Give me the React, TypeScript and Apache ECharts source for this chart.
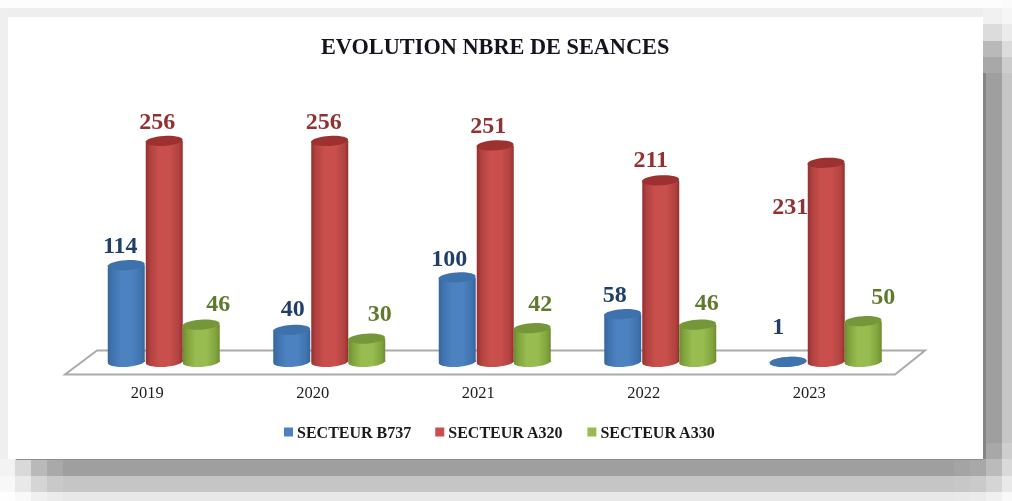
import React, { useEffect, useRef } from "react";
import * as echarts from "echarts";

const years = ["2019", "2020", "2021", "2022", "2023"];
const b737 = [114, 40, 100, 58, 1];
const a320 = [256, 256, 251, 211, 231];
const a330 = [46, 30, 42, 46, 50];

const FONT = '"Liberation Serif", "Times New Roman", serif';

// label nudges from the default spot above each cylinder, in pixels [dx, dy]
const b737Nudge = [[-6, 1], [1, -1], [-8, 1], [-8, 1], [-10, -17]];
const a320Nudge = [[-7, 1], [-6, 1], [-7, 1], [-10, 0], [-36, 64]];
const a330Nudge = [[17, -1], [13, -5], [8, -4], [9, -2], [20, -4]];

type Look = { edge: string; light: string; mid: string; cap: string; text: string };
const blue: Look = { edge: "#35669d", light: "#4c82c0", mid: "#3f73ae", cap: "#3d72ad", text: "#1f3f68" };
const red: Look = { edge: "#962f2e", light: "#c84f4c", mid: "#b04240", cap: "#9c3130", text: "#8f3234" };
const green: Look = { edge: "#6c8d30", light: "#98bc50", mid: "#80a33c", cap: "#76963a", text: "#5f7a2c" };

const BAR_W = 37;
const RY = 5;
const TILT = 0.06;
const BASE_SHIFT = 17;
const BASE_LIFT = 3;

function cylinderSeries(name: string, values: number[], nudge: number[][], look: Look, offset: number) {
  return {
    type: "custom",
    name,
    itemStyle: { color: look.light },
    data: values.map((v, i) => [i, v]),
    encode: { x: 0, y: 1 },
    clip: false,
    renderItem: (_: any, api: any) => {
      const i = api.value(0);
      const v = api.value(1);
      const [cx0, rawTop] = api.coord([i, v]);
      const [, zeroY] = api.coord([i, 0]);
      const baseY = zeroY - BASE_LIFT;
      const topY = Math.min(rawTop, baseY);
      const cx = cx0 + BASE_SHIFT + offset;
      const left = cx - BAR_W / 2;
      const fill = new echarts.graphic.LinearGradient(0, 0, 1, 0, [
        { offset: 0, color: look.edge },
        { offset: 0.12, color: look.mid },
        { offset: 0.35, color: look.light },
        { offset: 0.65, color: look.light },
        { offset: 0.9, color: look.mid },
        { offset: 1, color: look.edge },
      ]);
      const ellipse = (cy: number, color: any) => ({
        type: "ellipse",
        shape: { cx, cy, rx: BAR_W / 2, ry: RY },
        originX: cx,
        originY: cy,
        rotation: TILT,
        style: { fill: color },
      });
      const [dx, dy] = nudge[i];
      return {
        type: "group",
        children: [
          ellipse(baseY, fill),
          { type: "rect", shape: { x: left, y: topY, width: BAR_W, height: baseY - topY }, style: { fill } },
          ellipse(topY, v < 5 ? look.mid : look.cap),
          {
            type: "text",
            style: {
              text: String(values[i]),
              x: cx + dx,
              y: rawTop - 21 + dy,
              textAlign: "center",
              textVerticalAlign: "middle",
              font: `bold 24px ${FONT}`,
              fill: look.text,
            },
          },
        ],
      };
    },
  };
}

// stepped drop shadow around the panel
const shadowRight = [
  [0, 8, "#fdfdfd", "#fbfbfb"],
  [8, 16, "#f1f1f1", "#f6f6f6"],
  [24, 17, "#dcdcdc", "#ebebeb"],
  [41, 16, "#b9b9b9", "#dcdcdc"],
  [57, 16, "#a8a8a8", "#cdcdcd"],
  [73, 370, "#9f9f9f", "#c6c6c6"],
  [443, 16, "#a8a8a8", "#cecece"],
];
const shadowBottom = [
  [0, 15, "#f3f3f3", "#f8f8f8", "#fefefe"],
  [15, 16, "#d9d9d9", "#e9e9e9", "#f9f9f9"],
  [31, 16, "#b9b9b9", "#d5d5d5", "#f0f0f0"],
  [47, 16, "#a9a9a9", "#c9c9c9", "#ebebeb"],
  [63, 891, "#9f9f9f", "#c5c5c5", "#e8e8e8"],
  [954, 16, "#a4a4a4", "#c7c7c7", "#e9e9e9"],
  [970, 16, "#a8a8a8", "#cacaca", "#ebebeb"],
  [986, 16, "#bbbbbb", "#d5d5d5", "#f0f0f0"],
  [1002, 10, "#d9d9d9", "#e9e9e9", "#f9f9f9"],
];

function frameRects() {
  const rect = (x: number, y: number, w: number, h: number, fill: string) => ({
    type: "rect",
    shape: { x, y, width: w, height: h },
    style: { fill },
    silent: true,
    z: -10,
  });
  const out: any[] = [
    rect(0, 0, 1012, 8, "#fdfdfd"),
    rect(0, 8, 8, 451, "#efefef"),
    rect(8, 8, 975, 9, "#eeeeee"),
    rect(8, 17, 975, 442, "#ffffff"),
  ];
  for (const [y, h, a, b] of shadowRight as any[]) {
    out.push(rect(983, y, 19, h, a), rect(1002, y, 10, h, b));
  }
  out.push(rect(983, 73, 3, 386, "#858585"));
  for (const [x, w, a, b, c] of shadowBottom as any[]) {
    out.push(rect(x, 459, w, 17, a), rect(x, 476, w, 16, b), rect(x, 492, w, 9, c));
  }
  out.push(rect(16, 459, 967, 1, "#8d8d8d"));
  return out;
}

export default function App() {
  const ref = useRef<HTMLDivElement>(null);
  useEffect(() => {
    document.body.style.margin = "0";
    const chart = echarts.init(ref.current!, undefined, { renderer: "svg" });
    chart.setOption({
      animation: false,
      backgroundColor: "#ffffff",
      title: {
        text: "EVOLUTION NBRE DE SEANCES",
        left: 321,
        top: 35,
        padding: 0,
        textStyle: { fontFamily: FONT, fontWeight: "bold", fontSize: 22.3, color: "#14141c" },
      },
      legend: {
        left: 284,
        top: 424,
        padding: 0,
        itemWidth: 9,
        itemHeight: 9,
        itemGap: 24,
        icon: "rect",
        data: ["SECTEUR B737", "SECTEUR A320", "SECTEUR A330"],
        textStyle: { fontFamily: FONT, fontWeight: "bold", fontSize: 16, color: "#1a1a1a", padding: [0, 0, 0, -1] },
      },
      grid: { left: 64.5, top: 102.5, width: 827.5, height: 262.5 },
      xAxis: {
        type: "category",
        data: years,
        axisLine: { show: false },
        axisTick: { show: false },
        axisLabel: { fontFamily: FONT, fontSize: 16.5, color: "#1c1c1c", margin: 19 },
      },
      yAxis: { type: "value", min: 0, max: 300, show: false },
      graphic: {
        elements: [
          ...frameRects(),
          {
            type: "polygon",
            shape: { points: [[65, 374.5], [97, 350.5], [925, 350.5], [895, 374.5]] },
            style: { fill: "#ffffff", stroke: "#ababab", lineWidth: 2 },
            silent: true,
            z: -5,
          },
        ],
      },
      series: [
        cylinderSeries("SECTEUR B737", b737, b737Nudge, blue, -38),
        cylinderSeries("SECTEUR A320", a320, a320Nudge, red, 0),
        cylinderSeries("SECTEUR A330", a330, a330Nudge, green, 37),
      ],
    });
    return () => chart.dispose();
  }, []);
  return <div ref={ref} style={{ width: 1012, height: 501, filter: "blur(0.4px)" }} />;
}
